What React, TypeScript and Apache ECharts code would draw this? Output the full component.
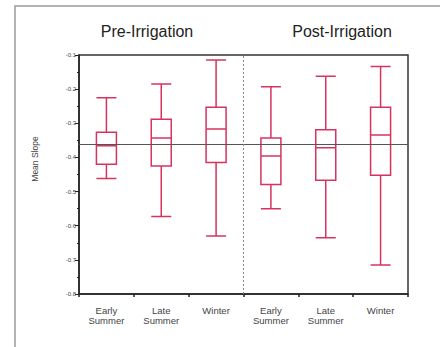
import React, { useEffect, useRef } from "react";
import * as echarts from "echarts";

const categories = ["Early\nSummer", "Late\nSummer", "Winter", "Early\nSummer", "Late\nSummer", "Winter"];
// [whisker low, Q1, median, Q3, whisker high]
const boxValues = [
  [-0.462, -0.42, -0.366, -0.326, -0.225],
  [-0.573, -0.425, -0.343, -0.288, -0.185],
  [-0.63, -0.415, -0.317, -0.253, -0.115],
  [-0.55, -0.479, -0.396, -0.343, -0.193],
  [-0.635, -0.467, -0.372, -0.319, -0.162],
  [-0.715, -0.452, -0.334, -0.253, -0.134],
];
const referenceValue = -0.365;
const groupTitles = ["Pre-Irrigation", "Post-Irrigation"];
const groupDivider = 3; // boundary (in category units) between the two groups
const yTicks = [-0.8, -0.7, -0.6, -0.5, -0.4, -0.3, -0.2, -0.1];
const yName = "Mean Slope";

const RED = "#d6335f";
const FONT = "Liberation Sans, Arial, sans-serif";

export default function App() {
  const ref = useRef<HTMLDivElement>(null);
  useEffect(() => {
    if (!ref.current) return;
    const chart = echarts.init(ref.current, undefined, { renderer: "svg" });
    chart.setOption({
      animation: false,
      backgroundColor: "#ffffff",
      textStyle: { fontFamily: FONT },
      graphic: [
        {
          type: "polyline",
          shape: { points: [[15, 347], [15, 6], [440, 6]] },
          style: { stroke: "#9a9a9a", lineWidth: 1.5, fill: "none" },
          silent: true,
        },
        {
          type: "text",
          x: 147,
          y: 31,
          style: { text: groupTitles[0], fontSize: 16, fill: "#222", align: "center", verticalAlign: "middle", fontFamily: FONT },
        },
        {
          type: "text",
          x: 342,
          y: 31,
          style: { text: groupTitles[1], fontSize: 16, fill: "#222", align: "center", verticalAlign: "middle", fontFamily: FONT },
        },
        {
          type: "text",
          x: 35,
          y: 159,
          rotation: Math.PI / 2,
          style: {
            text: yName,
            fontSize: 8.5,
            fill: "#444",
            align: "center",
            verticalAlign: "middle",
            fontFamily: FONT,
          },
        },
      ],
      grid: {
        left: 79,
        top: 55,
        right: 32,
        bottom: 53,
        show: true,
        borderColor: "#333",
        borderWidth: 1.5,
        backgroundColor: "transparent",
      },
      xAxis: [
        {
          type: "category",
          data: categories,
          boundaryGap: true,
          axisLine: { lineStyle: { color: "#222", width: 1.5 } },
          axisTick: {
            show: true,
            length: 3,
            interval: 0,
            lineStyle: { color: "#222", width: 1.5 },
          },
          axisLabel: {
            interval: 0,
            margin: 12,
            fontSize: 9.5,
            lineHeight: 9.5,
            color: "#444",
            fontFamily: FONT,
          },
          splitLine: { show: false },
        },
        {
          type: "value",
          min: 0,
          max: categories.length,
          show: false,
        },
      ],
      yAxis: {
        type: "value",
        min: yTicks[0],
        max: yTicks[yTicks.length - 1],
        interval: 0.1,
        axisLine: { show: true, lineStyle: { color: "#222", width: 1.5 } },
        axisTick: { show: true, length: 4, lineStyle: { color: "#222", width: 1 } },
        minorTick: { show: true, splitNumber: 2, length: 2, lineStyle: { color: "#222", width: 1 } },
        splitLine: { show: false },
        axisLabel: {
          fontSize: 6,
          color: "#444",
          margin: 3,
          formatter: (v: number) => v.toFixed(1),
        },
      },
      series: [
        {
          type: "boxplot",
          xAxisIndex: 0,
          data: boxValues,
          boxWidth: [20, 20],
          itemStyle: { color: "transparent", borderColor: RED, borderWidth: 1.5 },
          markLine: {
            silent: true,
            symbol: "none",
            label: { show: false },
            lineStyle: { color: "#555", width: 1.2, type: "solid" },
            data: [{ yAxis: referenceValue }],
          },
        },
        {
          type: "line",
          xAxisIndex: 1,
          data: [],
          markLine: {
            silent: true,
            symbol: "none",
            label: { show: false },
            lineStyle: { color: "#888", width: 1, type: [2, 2] },
            data: [{ xAxis: groupDivider }],
          },
        },
      ],
    });
    return () => chart.dispose();
  }, []);
  return <div ref={ref} style={{ width: 440, height: 347, position: "absolute", left: 0, top: 0 }} />;
}
